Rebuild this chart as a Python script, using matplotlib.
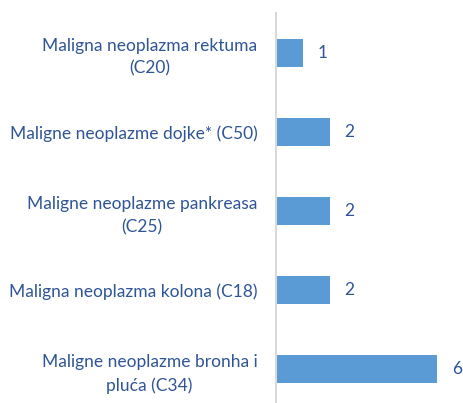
import matplotlib.pyplot as plt

# dijagnoze (odozgo prema dolje) i broj slucajeva
labels = [
    "Maligna neoplazma rektuma\n(C20)",
    "Maligne neoplazme dojke* (C50)",
    "Maligne neoplazme pankreasa\n(C25)",
    "Maligna neoplazma kolona (C18)",
    "Maligne neoplazme bronha i\npluća (C34)",
]
counts = [1, 2, 2, 2, 6]

bar_color = "#5B9BD5"
text_color = "#2F5597"

plt.rcParams['font.family'] = ['Lato', 'DejaVu Sans']

fig = plt.figure(figsize=(4.64, 4.03), dpi=100)
ax = fig.add_axes([0.595, -0.0145, 0.405, 0.982])

y = list(range(len(labels)))
bars = ax.barh(y, counts, height=0.355, color=bar_color)

for b, v in zip(bars, counts):
    ax.text(b.get_width() + 0.55, b.get_y() + b.get_height() / 2, str(v),
            va='center', ha='left', color=text_color, fontsize=12.5)

ax.set_yticks(y)
ax.set_yticklabels(labels, color=text_color, fontsize=12.5,
                   multialignment='center', linespacing=1.5)
ax.tick_params(axis='y', length=0, pad=13.5)
ax.set_ylim(len(labels) - 0.5, -0.5)
ax.set_xlim(0, 7)
ax.set_xticks([])

for s in ['top', 'right', 'bottom']:
    ax.spines[s].set_visible(False)
ax.spines['left'].set_color('#D9D9D9')
ax.spines['left'].set_linewidth(1.5)

fig.savefig("out.png", dpi=100)
